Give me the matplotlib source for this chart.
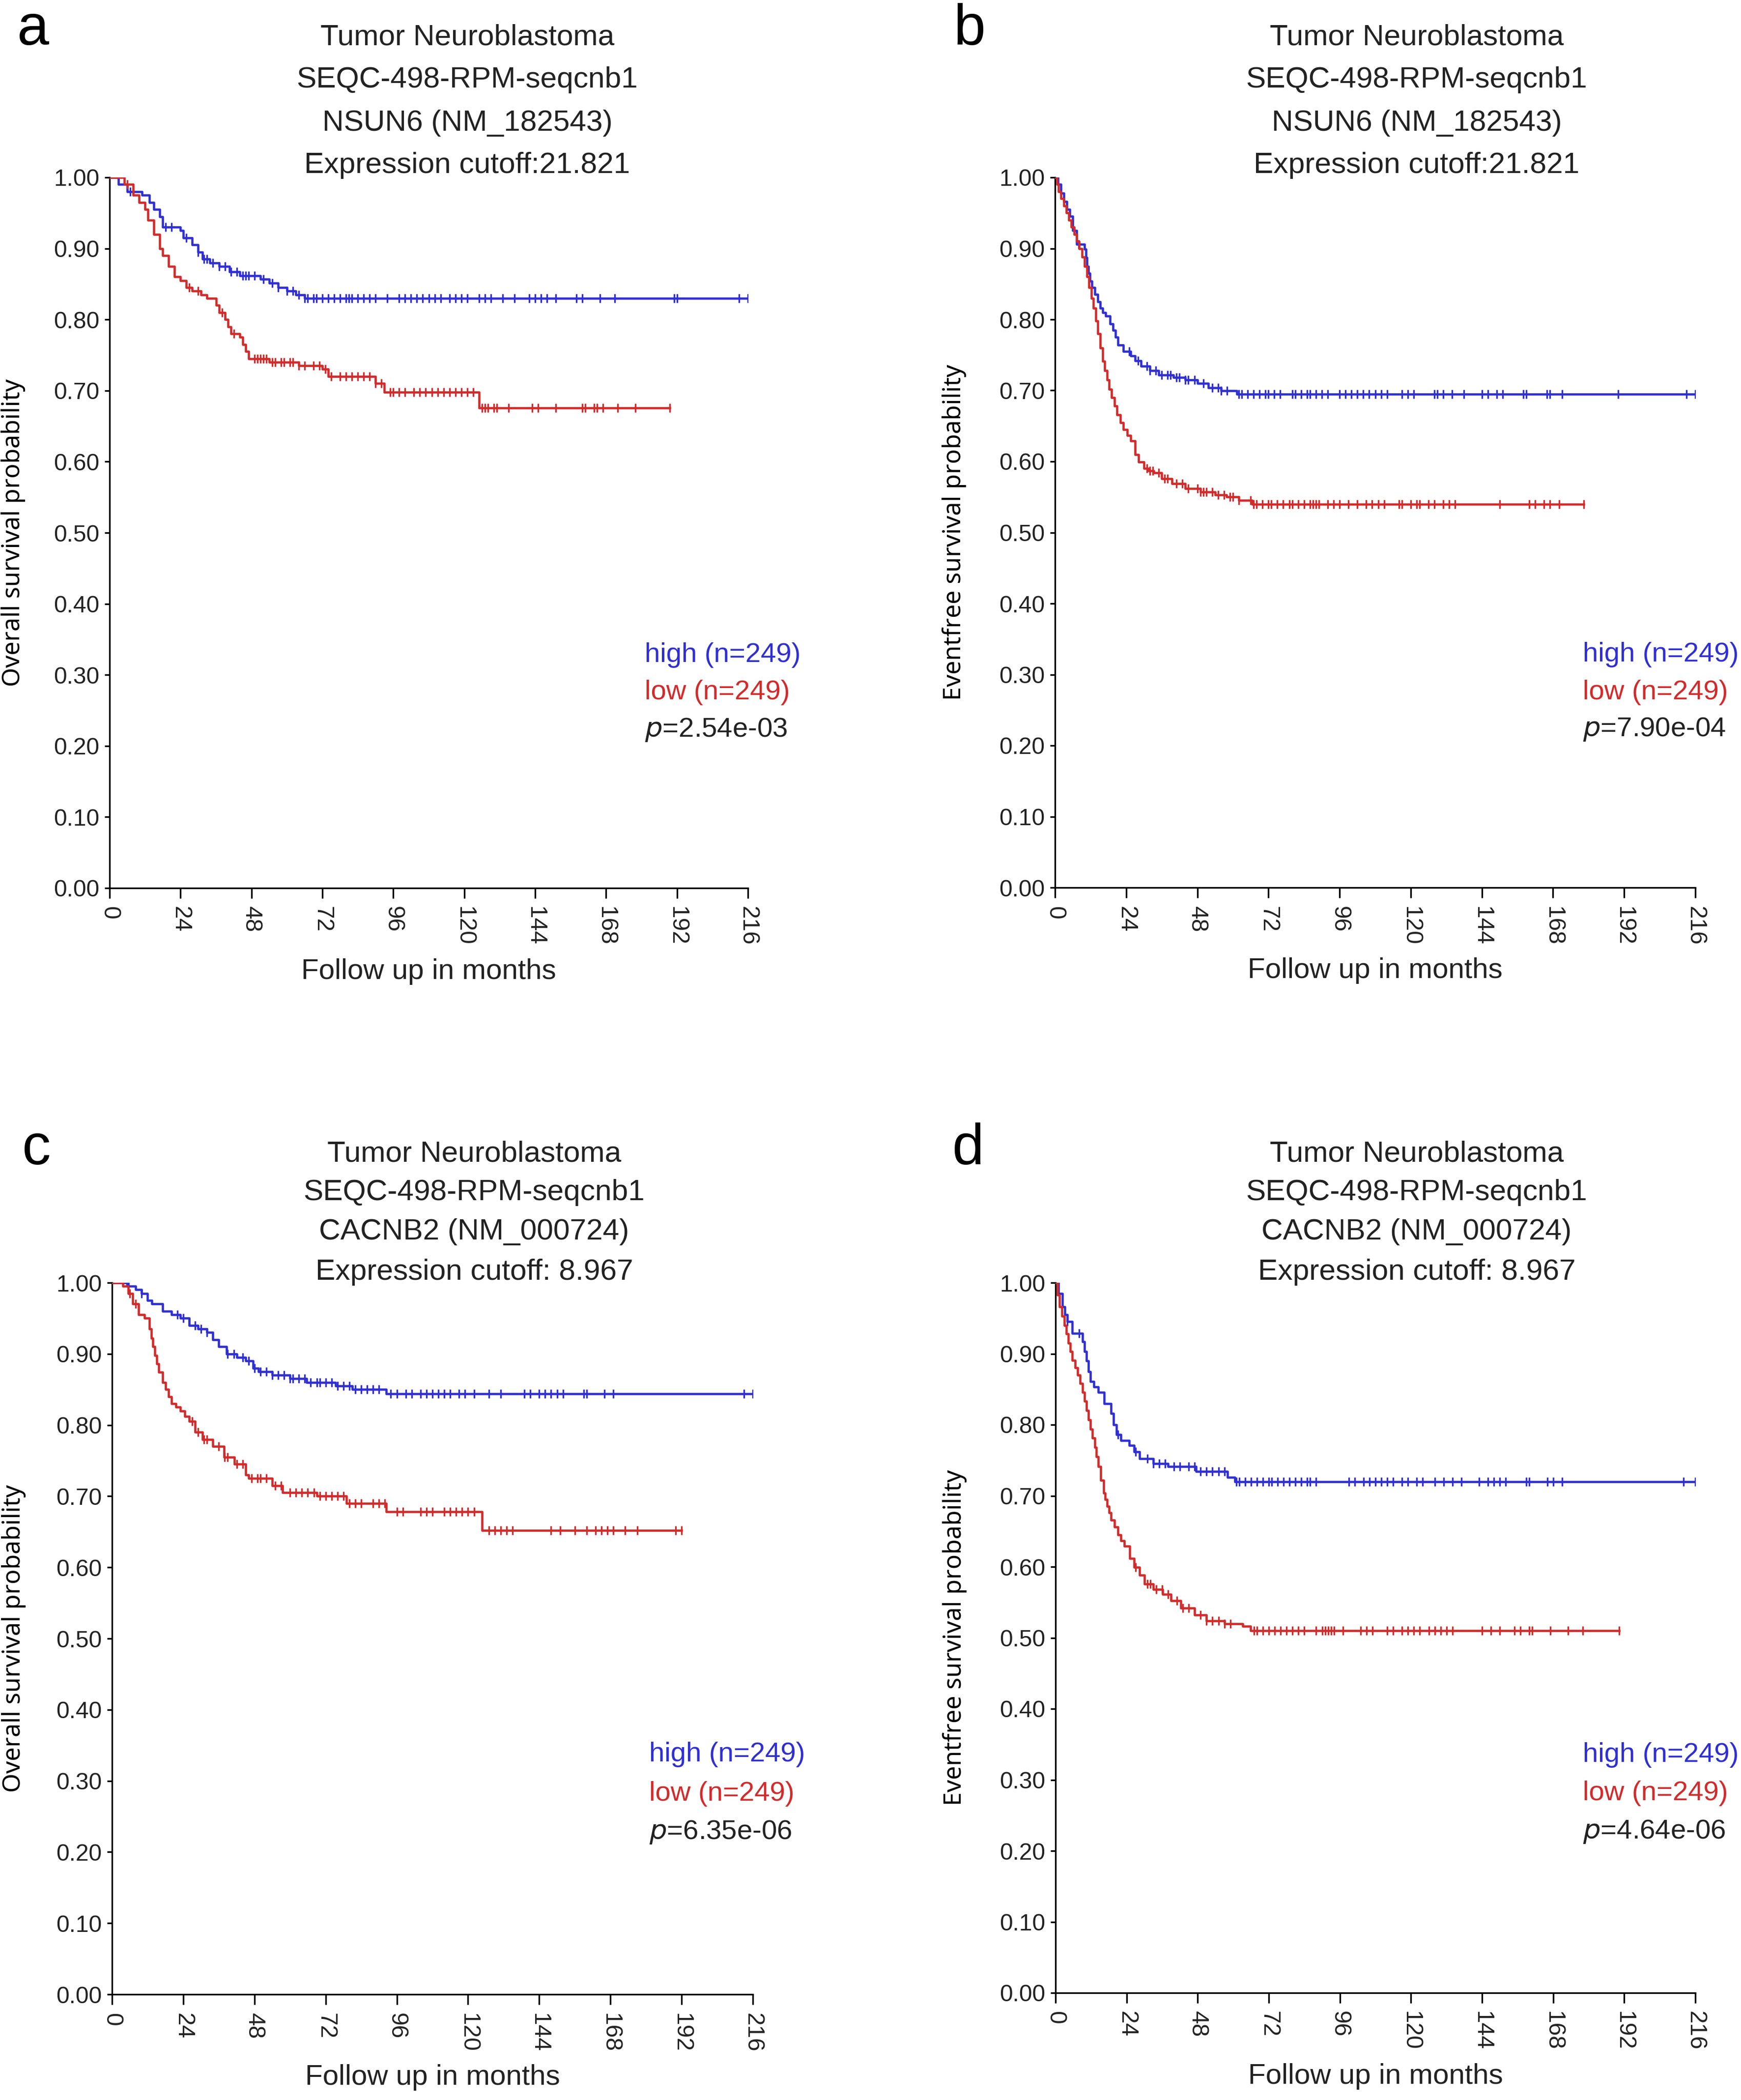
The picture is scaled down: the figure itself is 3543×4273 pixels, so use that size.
import numpy as np
import matplotlib
matplotlib.use('Agg')
import matplotlib.pyplot as plt

plt.rcParams['font.family'] = ['Liberation Sans', 'DejaVu Sans']

BLUE = '#2f2fd2'
RED = '#d12b2b'

# ---- panel a: overall survival, NSUN6 ----
a_high_t = [0, 3, 6, 11, 13.5, 15, 17, 18, 24, 25, 28, 30, 31.5, 34, 37, 40.5, 44, 51, 54, 57, 60, 63, 66]
a_high_s = [1.0, 0.99, 0.98, 0.975, 0.965, 0.955, 0.945, 0.93, 0.925, 0.915, 0.905, 0.895, 0.885, 0.88,
            0.875, 0.867, 0.862, 0.857, 0.851, 0.845, 0.84, 0.835, 0.83]
a_high_end = 216
a_high_cens = [7, 8, 19, 21, 26, 30, 32, 33, 35, 37, 39, 41, 43, 45, 46, 47, 49, 52, 55, 57, 60, 62, 64, 66,
               67, 69, 70, 72, 74, 76, 78, 80, 81, 82, 84, 86, 88, 90, 94, 98, 100, 102, 104, 106, 108, 110,
               112, 115, 117, 119, 121, 125, 127, 129, 133, 137, 142, 144, 146, 148, 151, 158, 160, 166, 171,
               191, 192, 213, 216]
a_low_t = [0, 5, 8, 10, 12, 13, 15, 17, 18, 20, 22, 24, 26, 28, 31, 33, 36, 37, 39, 40, 41, 44, 45, 46, 47,
           54, 64, 72, 74, 90, 93, 125]
a_low_s = [1.0, 0.99, 0.975, 0.965, 0.955, 0.94, 0.92, 0.9, 0.89, 0.875, 0.86, 0.855, 0.845, 0.84, 0.835, 0.83,
           0.82, 0.81, 0.80, 0.79, 0.78, 0.775, 0.765, 0.755, 0.745, 0.74, 0.735, 0.73, 0.72, 0.71, 0.698, 0.676]
a_low_end = 189.5
a_low_cens = [6, 27, 30, 38, 42, 49, 50, 51, 52, 53, 55, 56, 58, 59, 61, 62, 64, 66, 69, 71, 73, 75, 78, 80,
              82, 84, 86, 88, 90, 92, 95, 96, 98, 100, 103, 105, 107, 109, 111, 113, 115, 117, 119, 121, 123,
              126, 127, 128, 130, 131, 135, 143, 145, 151, 160, 161, 164, 165, 167, 172, 178, 189.5]

# ---- panel b: event-free survival, NSUN6 ----
b_high_t = [0, 1, 2, 3, 4, 5, 6, 7.3, 9.9, 10.4, 10.8, 11.2, 11.7, 12.5, 13.5, 14.4, 15.2, 16, 17, 18.6, 19.5,
            20.4, 21.3, 23, 25.6, 27, 29, 32, 35, 40, 44, 48, 51.7, 56, 61.3]
b_high_s = [1.0, 0.99, 0.978, 0.966, 0.955, 0.945, 0.925, 0.906, 0.899, 0.887, 0.875, 0.865, 0.854, 0.845,
            0.835, 0.825, 0.816, 0.81, 0.805, 0.794, 0.785, 0.775, 0.764, 0.755, 0.749, 0.742, 0.734, 0.728,
            0.722, 0.718, 0.715, 0.71, 0.704, 0.70, 0.695]
b_high_end = 216
b_high_cens = [8, 25, 28, 31, 32, 34, 36, 38, 39, 41, 42, 44, 45, 47, 50, 53, 55, 56, 58, 62, 63, 65, 67, 69,
               71, 72, 74, 76, 80, 81, 83, 85, 86, 88, 90, 92, 96, 98, 100, 102, 104, 106, 108, 110, 112, 117,
               119, 121, 128, 129, 131, 134, 138, 144, 146, 149, 151, 158, 159, 166, 167, 171, 190, 213, 216]
b_low_t = [0, 0.6, 1.2, 2, 3, 3.8, 4.7, 5.5, 6.4, 7.3, 8.2, 9.1, 10, 10.8, 11.5, 12.2, 12.9, 13.7, 14.5, 15.2,
           16, 16.8, 17.5, 18.2, 19, 20, 20.9, 22, 23, 24.3, 25.6, 27, 28.2, 30, 31.5, 33.4, 36, 39.5, 44, 49,
           54, 57.8, 62, 66.5]
b_low_s = [1.0, 0.99, 0.98, 0.97, 0.96, 0.95, 0.94, 0.93, 0.92, 0.91, 0.90, 0.888, 0.875, 0.86, 0.845, 0.83,
           0.816, 0.798, 0.78, 0.76, 0.741, 0.728, 0.715, 0.702, 0.69, 0.678, 0.666, 0.655, 0.645, 0.637, 0.629,
           0.61, 0.599, 0.59, 0.587, 0.584, 0.576, 0.569, 0.562, 0.557, 0.553, 0.55, 0.545, 0.54]
b_low_end = 178.4
b_low_cens = [31, 32, 33, 35, 37, 38, 41, 43, 45, 48, 49, 50, 51, 53, 55, 57, 59, 60, 62, 66, 67, 68, 70, 72,
              73, 75, 77, 79, 80, 82, 84, 86, 87, 88, 89, 92, 94, 96, 99, 102, 105, 107, 109, 111, 116, 117,
              120, 122, 123, 126, 128, 131, 133, 135, 150, 160, 162, 165, 167, 170, 178.4]

# ---- panel c: overall survival, CACNB2 ----
c_high_t = [0, 5.4, 8, 10, 12, 13.5, 17, 20, 23, 26, 29, 32, 34, 36, 38.6, 42, 45, 47.6, 49.4, 54, 60, 65.6,
            75.4, 81, 92.5]
c_high_s = [1.0, 0.995, 0.99, 0.985, 0.975, 0.97, 0.96, 0.955, 0.95, 0.94, 0.935, 0.93, 0.92, 0.91, 0.90,
            0.895, 0.89, 0.88, 0.875, 0.87, 0.865, 0.86, 0.855, 0.85, 0.844]
c_high_end = 216
c_high_cens = [5, 10, 22, 24, 28, 30, 32, 39, 41, 44, 46, 48, 50, 52, 54, 56, 58, 60, 61, 63, 65, 67, 69, 70,
               72, 74, 76, 78, 80, 82, 84, 86, 88, 90, 94, 96, 99, 101, 104, 106, 108, 110, 112, 114, 117,
               119, 122, 127, 131, 139, 141, 144, 146, 148, 150, 152, 159, 160, 166, 169, 213, 216]
c_low_t = [0, 3.6, 5.4, 7, 9, 11, 12.6, 13.2, 13.8, 14.4, 15, 15.8, 17, 18, 19, 20, 21.5, 23, 24.5, 26, 28,
           30.5, 34, 37.7, 41.3, 45, 46, 54, 57.5, 69, 79, 92.5, 124.8]
c_low_s = [1.0, 0.995, 0.985, 0.97, 0.955, 0.95, 0.935, 0.922, 0.91, 0.898, 0.886, 0.874, 0.86, 0.85, 0.84,
           0.83, 0.825, 0.82, 0.812, 0.805, 0.79, 0.78, 0.77, 0.755, 0.745, 0.73, 0.725, 0.715, 0.705, 0.70,
           0.69, 0.678, 0.652]
c_low_end = 192
c_low_cens = [6, 8, 27, 29, 31, 32, 36, 38, 39, 42, 44, 47, 49, 50, 52, 55, 57, 60, 62, 64, 66, 68, 70, 72,
              74, 76, 78, 80, 82, 84, 88, 90, 92, 96, 98, 104, 106, 108, 112, 114, 116, 118, 120, 122, 127, 129,
              131, 133, 135, 148, 151, 156, 160, 163, 165, 167, 169, 173, 177, 190, 192]

# ---- panel d: event-free survival, CACNB2 ----
d_high_t = [0, 1, 2.3, 3.2, 4, 5.7, 9.2, 9.8, 10.5, 11.1, 11.8, 13, 14.5, 16.5, 18.8, 19.6, 20.5, 22, 24.9,
            26.5, 28.4, 33, 38, 47.5, 58, 60.6]
d_high_s = [1.0, 0.985, 0.966, 0.955, 0.945, 0.929, 0.917, 0.903, 0.89, 0.875, 0.861, 0.853, 0.846, 0.83,
            0.816, 0.8, 0.786, 0.778, 0.771, 0.762, 0.752, 0.745, 0.741, 0.734, 0.726, 0.72]
d_high_end = 216
d_high_cens = [4, 8, 21, 27, 31, 33, 35, 37, 40, 42, 45, 47, 49, 51, 53, 55, 57, 61, 62, 64, 66, 68, 70, 72,
               73, 75, 77, 79, 81, 83, 85, 86, 88, 99, 101, 104, 106, 108, 110, 112, 114, 117, 119, 122, 124,
               128, 131, 134, 137, 143, 146, 148, 150, 152, 159, 160, 166, 168, 171, 212, 216]
d_low_t = [0, 0.7, 1.4, 2.2, 3, 3.6, 4.3, 5, 5.7, 6.6, 7.5, 8.3, 9.2, 9.8, 10.5, 11.1, 11.8, 12.5, 13.2, 13.8,
           14.5, 15.3, 16.2, 16.8, 17.5, 18.1, 18.8, 19.9, 21, 22.1, 23.2, 25, 26.6, 28.3, 30.1, 33, 36.2, 39,
           42.3, 47, 51, 57, 63.2, 65.8]
d_low_s = [1.0, 0.983, 0.966, 0.953, 0.94, 0.928, 0.915, 0.903, 0.891, 0.88, 0.87, 0.858, 0.846, 0.833, 0.82,
           0.807, 0.794, 0.781, 0.768, 0.755, 0.741, 0.722, 0.704, 0.695, 0.685, 0.676, 0.666, 0.656, 0.645,
           0.637, 0.629, 0.612, 0.599, 0.588, 0.576, 0.568, 0.561, 0.552, 0.542, 0.532, 0.524, 0.52, 0.516,
           0.51]
d_low_end = 190.3
d_low_cens = [27, 31, 32, 34, 36, 38, 41, 43, 45, 49, 51, 53, 55, 57, 59, 67, 68, 70, 72, 74, 76, 78, 80, 82,
              84, 88, 90, 91, 92, 93, 94, 97, 103, 105, 107, 112, 114, 117, 119, 121, 123, 126, 128, 130,
              132, 134, 144, 147, 150, 155, 157, 160, 161, 167, 173, 178, 190.3]

titles_top = ['Tumor Neuroblastoma', 'SEQC-498-RPM-seqcnb1', 'NSUN6 (NM_182543)', 'Expression cutoff:21.821']
titles_bot = ['Tumor Neuroblastoma', 'SEQC-498-RPM-seqcnb1', 'CACNB2 (NM_000724)', 'Expression cutoff: 8.967']
pvals = ['2.54e-03', '7.90e-04', '6.35e-06', '4.64e-06']
ylabels = ['Overall survival probability', 'Eventfree survival probability',
           'Overall survival probability', 'Eventfree survival probability']
letters = ['a', 'b', 'c', 'd']

panels = [
    (a_high_t, a_high_s, a_high_end, a_high_cens, a_low_t, a_low_s, a_low_end, a_low_cens),
    (b_high_t, b_high_s, b_high_end, b_high_cens, b_low_t, b_low_s, b_low_end, b_low_cens),
    (c_high_t, c_high_s, c_high_end, c_high_cens, c_low_t, c_low_s, c_low_end, c_low_cens),
    (d_high_t, d_high_s, d_high_end, d_high_cens, d_low_t, d_low_s, d_low_end, d_low_cens),
]

W, H = 3543, 4273
fig = plt.figure(figsize=(W / 300, H / 300), dpi=300)

# axes boxes in pixels: left, right, top, bottom
boxes = [(223, 1522, 361, 1807), (2147, 3450, 361, 1806),
         (228, 1532, 2610, 4058), (2148, 3450, 2610, 4055)]
title_x = [951, 2883, 965, 2883]
title_y = [[76, 163, 250, 337], [76, 163, 250, 337],
           [2348, 2427, 2506, 2588], [2348, 2427, 2506, 2588]]
letter_xy = [(68, 60), (1973, 60), (74, 2338), (1970, 2338)]
legend_x = [181, 178, 181, 178]
legend_y = [(0.328, 0.275, 0.223), (0.328, 0.275, 0.223),
            (0.337, 0.282, 0.228), (0.335, 0.281, 0.227)]
ylabel_x = [-0.132, -0.138, -0.134, -0.138]


def km_draw(ax, t, s, end, cens, color):
    t = list(t) + [end]
    s = list(s) + [s[-1]]
    ax.plot(t, s, drawstyle='steps-post', color=color, lw=1.1, zorder=3)
    idx = np.searchsorted(t, cens, side='right') - 1
    ys = np.array(s)[idx]
    ax.plot(cens, ys, linestyle='none', marker='|', ms=4.5, mew=0.8, color=color, zorder=3)


for i, p in enumerate(panels):
    l, r, tp, bt = boxes[i]
    ax = fig.add_axes([l / W, 1 - bt / H, (r - l) / W, (bt - tp) / H])
    km_draw(ax, p[0], p[1], p[2], p[3], BLUE)
    km_draw(ax, p[4], p[5], p[6], p[7], RED)
    ax.set_xlim(0, 216)
    ax.set_ylim(0, 1.0)
    ax.set_xticks(np.arange(0, 217, 24))
    ax.set_yticks(np.arange(0, 1.01, 0.1))
    ax.set_yticklabels(['%.2f' % v for v in np.arange(0, 1.01, 0.1)])
    for lab in ax.get_xticklabels():
        lab.set_rotation(-90)
    ax.tick_params(axis='x', length=5, width=0.8, labelsize=11.5, pad=4, labelcolor='#222222')
    ax.tick_params(axis='y', length=2.5, width=0.8, labelsize=11.5, pad=2.5, labelcolor='#222222')
    for side in ['top', 'right']:
        ax.spines[side].set_visible(False)
    for side in ['left', 'bottom']:
        ax.spines[side].set_linewidth(0.8)
    ax.set_xlabel('Follow up in months', fontsize=14, labelpad=6, color='#222222')
    ax.set_ylabel(ylabels[i], fontsize=12, family=['Noto Sans', 'DejaVu Sans'])
    ax.yaxis.set_label_coords(ylabel_x[i], 0.5)

    lx = legend_x[i]
    ly = legend_y[i]
    ax.text(lx, ly[0], 'high (n=249)', color=BLUE, fontsize=13.5, va='center', ha='left')
    ax.text(lx, ly[1], 'low (n=249)', color=RED, fontsize=13.5, va='center', ha='left')
    ax.text(lx, ly[2], '$p$=' + pvals[i], color='#222222', fontsize=13.5, va='center', ha='left')

    lines = titles_top if i < 2 else titles_bot
    for j, line in enumerate(lines):
        fig.text(title_x[i] / W, 1 - title_y[i][j] / H, line, ha='center', va='center', fontsize=14.5,
                 color='#222222')
    fig.text(letter_xy[i][0] / W, 1 - letter_xy[i][1] / H, letters[i], ha='center', va='center', fontsize=28)

fig.savefig('out.png', dpi=300, facecolor='white')
